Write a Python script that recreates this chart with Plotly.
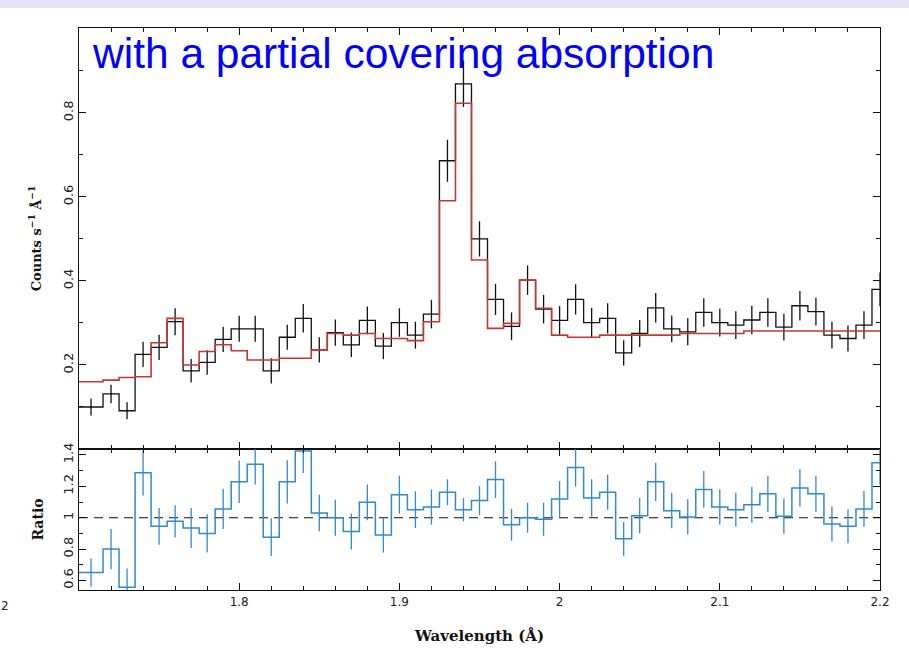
import plotly.graph_objects as go

# ---------------- data ----------------
wl_center = [1.7075] + [round(1.72 + 0.01 * i, 3) for i in range(49)]
half_width = 0.005
wl_lo = [1.700] + [round(c - half_width, 4) for c in wl_center[1:]]
wl_hi = [round(c + half_width, 4) for c in wl_center]

counts = [0.100, 0.131, 0.091, 0.225, 0.242, 0.303, 0.186, 0.206, 0.261, 0.286,
          0.286, 0.186, 0.266, 0.311, 0.236, 0.277, 0.248, 0.306, 0.245, 0.301,
          0.271, 0.321, 0.686, 0.869, 0.500, 0.356, 0.292, 0.402, 0.333, 0.306,
          0.356, 0.301, 0.311, 0.229, 0.275, 0.336, 0.286, 0.279, 0.325, 0.301,
          0.295, 0.307, 0.325, 0.290, 0.341, 0.327, 0.271, 0.263, 0.295, 0.380]
counts_err = [0.020, 0.022, 0.020, 0.030, 0.030, 0.032, 0.028, 0.029, 0.030, 0.031,
              0.031, 0.030, 0.030, 0.034, 0.030, 0.031, 0.029, 0.033, 0.031, 0.034,
              0.032, 0.034, 0.050, 0.055, 0.042, 0.037, 0.033, 0.035, 0.034, 0.034,
              0.036, 0.035, 0.036, 0.030, 0.032, 0.035, 0.032, 0.032, 0.034, 0.033,
              0.033, 0.034, 0.034, 0.032, 0.035, 0.033, 0.032, 0.031, 0.033, 0.040]
model = [0.160, 0.164, 0.170, 0.172, 0.253, 0.311, 0.200, 0.232, 0.248, 0.234,
         0.212, 0.212, 0.216, 0.216, 0.236, 0.275, 0.271, 0.275, 0.263, 0.263,
         0.258, 0.303, 0.591, 0.823, 0.450, 0.287, 0.299, 0.402, 0.335, 0.271,
         0.266, 0.266, 0.271, 0.271, 0.271, 0.271, 0.271, 0.275, 0.275, 0.275,
         0.275, 0.281, 0.281, 0.281, 0.281, 0.281, 0.281, 0.281, 0.281, 0.281]
ratio = [0.650, 0.800, 0.556, 1.286, 0.945, 0.977, 0.934, 0.900, 1.056, 1.229,
         1.340, 0.876, 1.229, 1.425, 1.030, 1.000, 0.912, 1.098, 0.890, 1.147,
         1.051, 1.068, 1.162, 1.051, 1.109, 1.243, 0.955, 1.000, 0.990, 1.120,
         1.320, 1.126, 1.162, 0.865, 1.013, 1.229, 1.045, 1.005, 1.180, 1.068,
         1.051, 1.083, 1.152, 1.010, 1.190, 1.152, 0.960, 0.945, 1.056, 1.350]
ratio_err = [0.090, 0.128, 0.120, 0.144, 0.117, 0.103, 0.128, 0.122, 0.128, 0.136,
             0.128, 0.120, 0.138, 0.140, 0.117, 0.115, 0.115, 0.114, 0.112, 0.121,
             0.117, 0.112, 0.083, 0.074, 0.093, 0.117, 0.101, 0.096, 0.106, 0.114,
             0.122, 0.119, 0.112, 0.108, 0.112, 0.122, 0.112, 0.112, 0.117, 0.112,
             0.108, 0.115, 0.115, 0.112, 0.119, 0.115, 0.112, 0.108, 0.114, 0.140]
ratio_ref = 1.0

top_ticks = [0.2, 0.4, 0.6, 0.8]
top_minor = [0.1, 0.3, 0.5, 0.7, 0.9]
bot_ticks = [0.6, 0.8, 1.0, 1.2, 1.4]
bot_labels = ["0.6", "0.8", "1", "1.2", "1.4"]
bot_minor = [0.7, 0.9, 1.1, 1.3]
x_ticks = [1.8, 1.9, 2.0, 2.1, 2.2]
x_labels = ["1.8", "1.9", "2", "2.1", "2.2"]

BLACK = "#111111"
RED = "#c8372d"
BLUE = "#2f8ad0"

step_x = wl_lo + [wl_hi[-1]]

fig = go.Figure()

# top panel: data steps + errors
fig.add_trace(go.Scatter(x=step_x, y=counts + [counts[-1]], mode="lines",
                         line=dict(shape="hv", color=BLACK, width=1.3),
                         xaxis="x", yaxis="y", showlegend=False, hoverinfo="skip"))
fig.add_trace(go.Scatter(x=wl_center, y=counts, mode="markers",
                         marker=dict(size=1, color=BLACK),
                         error_y=dict(type="data", array=counts_err, width=0,
                                      thickness=1.3, color=BLACK),
                         xaxis="x", yaxis="y", showlegend=False))
fig.add_trace(go.Scatter(x=step_x, y=model + [model[-1]], mode="lines",
                         line=dict(shape="hv", color=RED, width=1.6),
                         xaxis="x", yaxis="y", showlegend=False, hoverinfo="skip"))

# bottom panel: ratio
fig.add_trace(go.Scatter(x=[1.7, 2.2], y=[ratio_ref, ratio_ref], mode="lines",
                         line=dict(color=BLACK, width=1.1, dash="9px,6px"),
                         xaxis="x2", yaxis="y2", showlegend=False, hoverinfo="skip"))
fig.add_trace(go.Scatter(x=step_x, y=ratio + [ratio[-1]], mode="lines",
                         line=dict(shape="hv", color=BLUE, width=1.5),
                         xaxis="x2", yaxis="y2", showlegend=False, hoverinfo="skip"))
fig.add_trace(go.Scatter(x=wl_center, y=ratio, mode="markers",
                         marker=dict(size=1, color=BLUE),
                         error_y=dict(type="data", array=ratio_err, width=0,
                                      thickness=1.3, color=BLUE),
                         xaxis="x2", yaxis="y2", showlegend=False))

ytickfont = dict(family="DejaVu Sans", size=13, color="#222222")
xtickfont = dict(family="DejaVu Sans", size=12, color="#222222")
titlefont = dict(family="DejaVu Serif", size=13, color="#111111", weight="bold")

common_x = dict(range=[1.7, 2.2], ticks="inside", tickvals=x_ticks, ticklen=7,
                tickwidth=1, tickcolor=BLACK, showline=True, linecolor=BLACK,
                linewidth=1.2, mirror="allticks", showgrid=False, zeroline=False,
                automargin=False,
                minor=dict(dtick=0.02, tick0=1.7, ticklen=4, ticks="inside",
                           tickcolor=BLACK, showgrid=False))
common_y = dict(ticks="inside", ticklen=7, tickwidth=1, tickcolor=BLACK,
                showline=True, linecolor=BLACK, linewidth=1.2, mirror="allticks",
                showgrid=False, zeroline=False, tickangle=-90, tickfont=ytickfont,
                automargin=False)

dom_split = 141 / 562

fig.update_layout(
    width=909, height=652,
    margin=dict(l=79, r=29, t=28, b=62, autoexpand=False),
    paper_bgcolor="white", plot_bgcolor="white",
    xaxis=dict(common_x, anchor="y", domain=[0, 1], showticklabels=False),
    yaxis=dict(common_y, domain=[dom_split, 1], range=[0, 1.002],
               tickvals=top_ticks, ticktext=[str(v) for v in top_ticks],
               minor=dict(tickvals=top_minor, ticklen=4, ticks="inside",
                          tickcolor=BLACK, showgrid=False),
               title=dict(text="Counts s<sup>\u22121</sup> \u00c5<sup>\u22121</sup>",
                          font=titlefont, standoff=16)),
    xaxis2=dict(common_x, anchor="y2", domain=[0, 1], matches="x",
                ticktext=x_labels, tickfont=xtickfont,
                title=dict(text="Wavelength (\u00c5)", font=dict(titlefont, size=15),
                           standoff=22)),
    yaxis2=dict(common_y, domain=[0, dom_split], range=[0.539, 1.438],
                tickvals=bot_ticks, ticktext=bot_labels,
                minor=dict(tickvals=bot_minor, ticklen=4, ticks="inside",
                           tickcolor=BLACK, showgrid=False),
                title=dict(text="Ratio", font=dict(titlefont, size=14), standoff=13)),
    showlegend=False,
)

H = 562.0
fig.add_annotation(text="with a partial covering absorption", xref="paper", yref="paper",
                   x=(90 - 79) / 801, y=(590 - 53) / H, xanchor="left", yanchor="middle",
                   showarrow=False,
                   font=dict(family="Liberation Sans", size=42.5, color="#0000ff"))
fig.add_annotation(text="2", xref="paper", yref="paper",
                   x=(5 - 79) / 801, y=(590 - 606) / H, xanchor="center", yanchor="middle",
                   showarrow=False, font=xtickfont)

fig.add_shape(type="rect", xref="paper", yref="paper",
              x0=-79 / 801, x1=1 + 29 / 801, y0=(590 - 8) / H, y1=590 / H,
              line=dict(width=0), fillcolor="#e4e4f8", layer="above")

fig.write_html("out.html")
